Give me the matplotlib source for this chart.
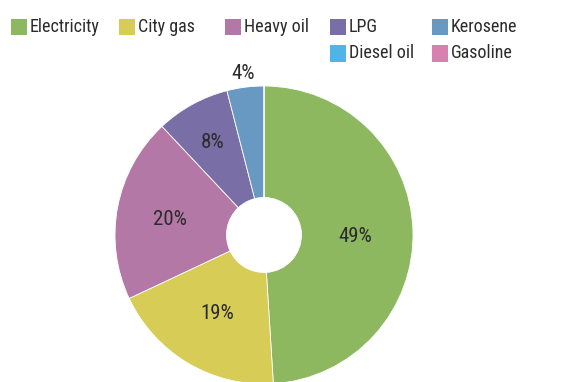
import numpy as np
import matplotlib
matplotlib.use("Agg")
import matplotlib.pyplot as plt
from matplotlib.patches import Rectangle
from matplotlib import font_manager

categories = ["Electricity", "City gas", "Heavy oil", "LPG", "Kerosene", "Diesel oil", "Gasoline"]
values = [49, 19, 20, 8, 4, 0, 0]
colors = ["#8db860", "#d6cc56", "#b478a6", "#7a6ea6", "#6899c2", "#50b4e6", "#d880b0"]

names = {f.name for f in font_manager.fontManager.ttflist}
cands = ['Liberation Sans Narrow', 'Roboto Condensed', 'DejaVu Sans Condensed', 'Open Sans Condensed', 'Liberation Sans']
fam = [c for c in cands if c in names] + ['DejaVu Sans']
plt.rcParams['font.family'] = fam
TXT = "#2b2b2b"

W, H = 563, 382
fig = plt.figure(figsize=(W / 100, H / 100), dpi=100)
fig.patch.set_facecolor("white")

r_px = 149
cx, cy = 264, H - 235
ax = fig.add_axes([(cx - r_px) / W, (cy - r_px) / H, 2 * r_px / W, 2 * r_px / H])
wedges, _ = ax.pie(values, colors=colors, startangle=90, counterclock=False,
                   radius=1.0, wedgeprops=dict(width=1 - 37.5 / 149, edgecolor="white", linewidth=0.6))
ax.set_xlim(-1, 1)
ax.set_ylim(-1, 1)
ax.set_aspect("equal")
ax.axis("off")

label_r = [0.61, 0.61, 0.64, 0.71, 1.095, 0.6, 0.6]
label_dang = [-3.0, 0.0, 1.5, 0.0, 0.0, 0.0, 0.0]
total = sum(values)
cum = 0
for v, lr, da in zip(values, label_r, label_dang):
    if v > 0:
        mid = cum + v / 2
        ang = np.deg2rad(90 - 360 * mid / total + da)
        ax.text(lr * np.cos(ang), lr * np.sin(ang), f"{v}%", ha="center", va="center",
                fontsize=15, color=TXT, clip_on=False)
    cum += v

slots = [(11, 27), (119, 27), (225, 27), (330, 27), (432, 27), (330, 53.5), (432, 53.5)]
for (x, y), lab, c in zip(slots, categories, colors):
    fig.patches.append(Rectangle((x / W, (H - y - 8) / H), 16 / W, 16 / H,
                                 transform=fig.transFigure, facecolor=c, edgecolor="none"))
    fig.text((x + 19) / W, (H - y) / H, lab, ha="left", va="center", fontsize=13, color=TXT)

fig.savefig("out.png", dpi=100)
